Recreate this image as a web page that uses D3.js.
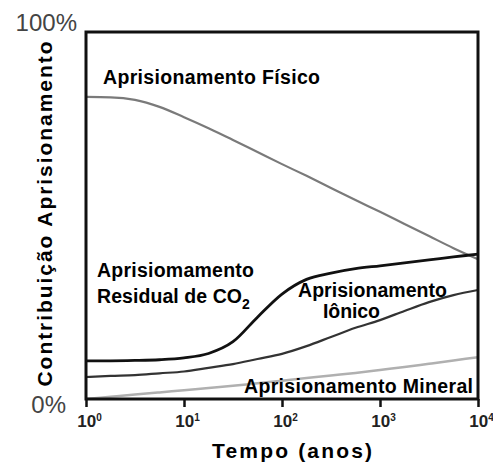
<!DOCTYPE html>
<html lang="pt">
  <head>
    <meta charset="UTF-8" />
    <title>Contribuição Aprisionamento</title>
    <script src="https://d3js.org/d3.v7.min.js"></script>
    <style>
      body { margin: 0; background: #fff; }
      svg { font-family: "Liberation Sans", Arial, sans-serif; }
    </style>
  </head>
  <body>
    <svg width="493" height="467"></svg>
    <script>
      // anos (quarter decades from 10^0 to 10^4)
      let anos = [1, 1.78, 3.16, 5.62, 10, 17.8, 31.6, 56.2, 100, 178, 316, 562, 1000, 1778, 3162, 5623, 10000];

      // contribution (%)
      let fisico = [82.3, 82.2, 81.5, 79.6, 76.8, 73.8, 70.6, 67.3, 64.0, 60.8, 57.5, 54.2, 51.0, 47.7, 44.4, 41.1, 38.1];
      let residual = [10.4, 10.4, 10.5, 10.7, 11.2, 12.4, 15.6, 22.3, 28.6, 32.6, 34.3, 35.5, 36.3, 37.1, 37.9, 38.7, 39.5];
      let ionico = [6.0, 6.3, 6.5, 7.0, 7.5, 8.5, 9.5, 10.9, 12.3, 14.4, 16.9, 19.4, 21.5, 24.0, 26.4, 28.3, 29.7];
      let mineral = [0, 0.6, 1.2, 1.8, 2.4, 3.0, 3.6, 4.3, 5.0, 5.7, 6.4, 7.1, 7.9, 8.7, 9.6, 10.5, 11.4];

      let xTicks = [1, 10, 100, 1000, 10000];
      let xExp = ["0", "1", "2", "3", "4"];

      let svg = d3.select("svg");
      let x = d3.scaleLog().domain([1, 10000]).range([86, 478]);
      let y = d3.scaleLinear().domain([0, 100]).range([399, 32]);

      let line = d3
        .line()
        .x((d) => x(d[0]))
        .y((d) => y(d[1]))
        .curve(d3.curveMonotoneX);

      let series = [
        { v: mineral, color: "#b0b0b0", w: 2.5 },
        { v: ionico, color: "#333", w: 2.2 },
        { v: fisico, color: "#7a7a7a", w: 2.2 },
        { v: residual, color: "#111", w: 2.8 },
      ];
      series.forEach((s) => {
        svg
          .append("path")
          .datum(anos.map((a, i) => [a, s.v[i]]))
          .attr("d", line)
          .attr("fill", "none")
          .attr("stroke", s.color)
          .attr("stroke-width", s.w);
      });

      // frame
      svg
        .append("rect")
        .attr("x", x(1))
        .attr("y", y(100))
        .attr("width", x(10000) - x(1))
        .attr("height", y(0) - y(100))
        .attr("fill", "none")
        .attr("stroke", "#111")
        .attr("stroke-width", 3);

      // x axis
      let xAxis = svg
        .append("g")
        .attr("transform", "translate(0," + y(0) + ")")
        .call(d3.axisBottom(x).tickValues(xTicks).tickSize(8).tickFormat(""));
      xAxis.select(".domain").remove();
      xAxis.selectAll(".tick line").attr("stroke", "#111").attr("stroke-width", 2.5);
      xAxis
        .selectAll(".tick")
        .append("text")
        .attr("y", 28)
        .attr("x", 3)
        .attr("fill", "#222")
        .attr("text-anchor", "middle")
        .attr("font-size", 17)
        .attr("font-weight", "bold")
        .each(function (d, i) {
          let t = d3.select(this);
          t.append("tspan").text("10");
          t.append("tspan").attr("font-size", 10).attr("dy", -6).text(xExp[i]);
        });

      svg
        .append("text")
        .attr("x", 292)
        .attr("y", 458)
        .attr("text-anchor", "middle")
        .attr("font-size", 21)
        .attr("font-weight", "bold")
        .attr("textLength", 160)
        .text("Tempo (anos)");

      // y labels
      svg
        .append("text")
        .attr("x", 77)
        .attr("y", y(100) - 1)
        .attr("text-anchor", "end")
        .attr("font-size", 24)
        .attr("fill", "#444")
        .text("100%");
      svg
        .append("text")
        .attr("x", 66)
        .attr("y", y(0) + 14)
        .attr("text-anchor", "end")
        .attr("font-size", 24)
        .attr("fill", "#444")
        .text("0%");

      svg
        .append("text")
        .attr("transform", "translate(52,214) rotate(-90)")
        .attr("text-anchor", "middle")
        .attr("font-size", 21)
        .attr("font-weight", "bold")
        .attr("textLength", 345)
        .text("Contribuição Aprisionamento");

      // curve labels
      let labels = [
        { t: "Aprisionamento Físico", x: 103, y: 84, len: 217 },
        { t: "Aprisiomamento", x: 97, y: 277, len: 157 },
        { t: "Aprisionamento", x: 298, y: 297, len: 149 },
        { t: "Iônico", x: 323, y: 318, len: 57 },
        { t: "Aprisionamento Mineral", x: 244, y: 393, len: 229 },
      ];
      labels.forEach((l) => {
        svg
          .append("text")
          .attr("x", l.x)
          .attr("y", l.y)
          .attr("font-size", 19.5)
          .attr("font-weight", "bold")
          .attr("textLength", l.len)
          .text(l.t);
      });
      let co2 = svg
        .append("text")
        .attr("x", 97)
        .attr("y", 303)
        .attr("font-size", 19.5)
        .attr("font-weight", "bold");
      co2.append("tspan").attr("textLength", 145).text("Residual de CO");
      co2.append("tspan").attr("dy", 6).attr("font-size", 14).text("2");
    </script>
  </body>
</html>
